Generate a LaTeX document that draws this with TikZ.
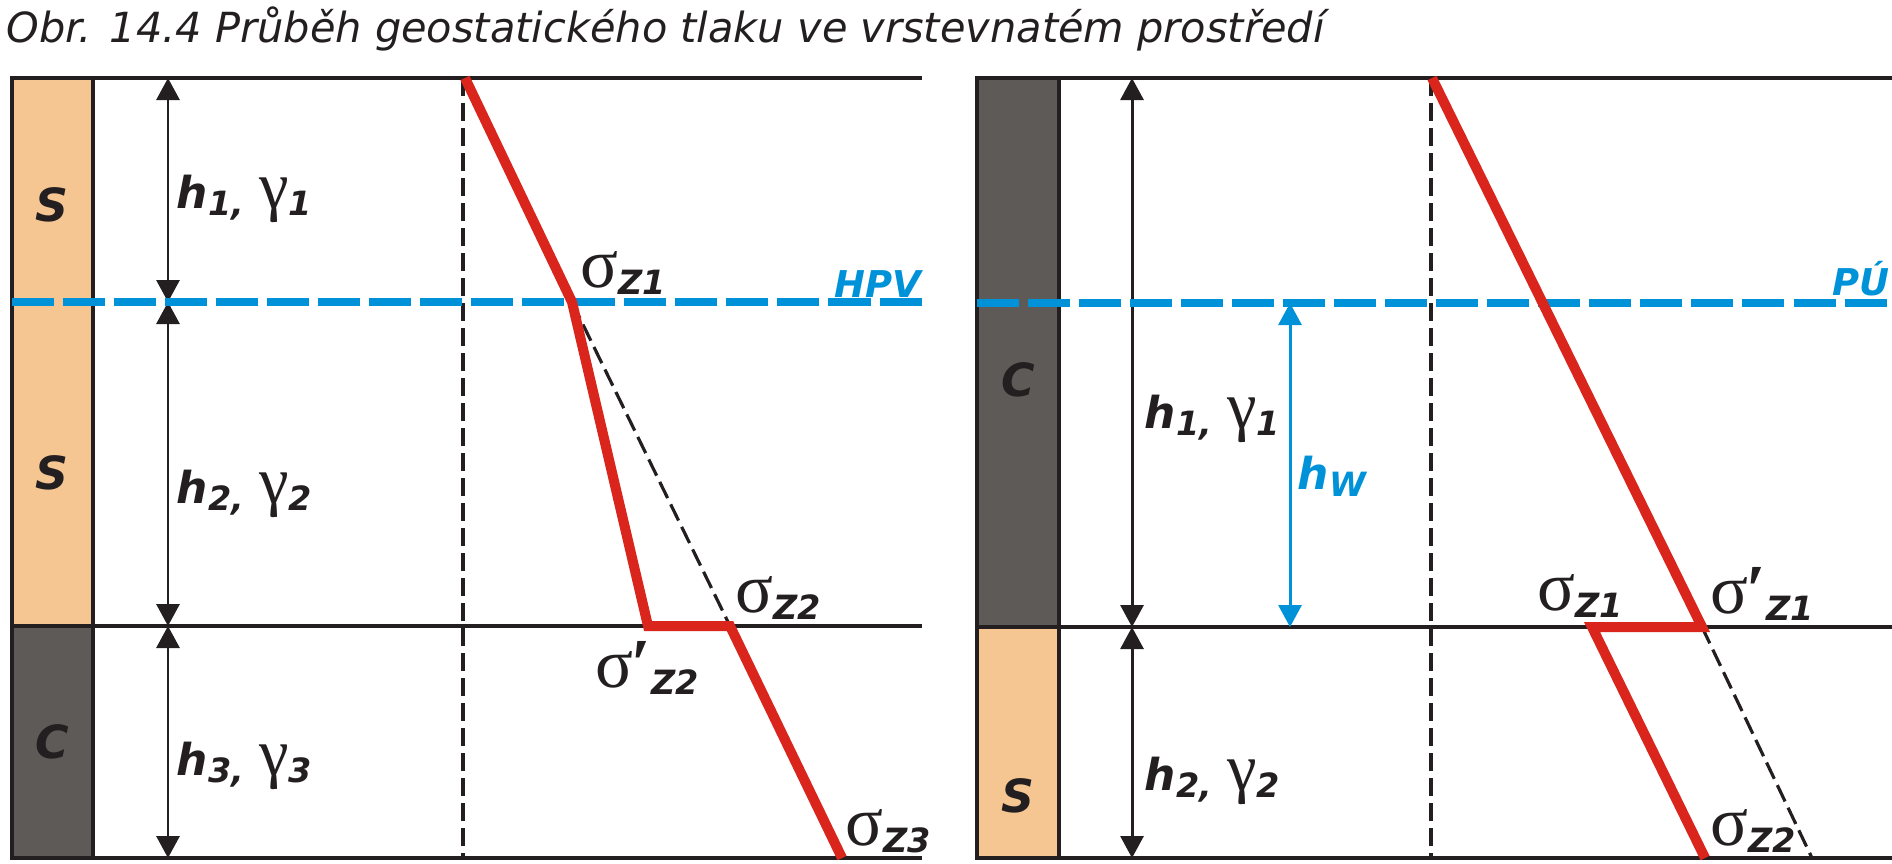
\documentclass[tikz,border=0pt]{standalone}
\usepackage{fontspec}
\setmainfont{DejaVu Sans}
\newfontfamily\greekfont{Liberation Serif}
\usetikzlibrary{arrows.meta}
\definecolor{inkcol}{RGB}{35,31,32}
\definecolor{sandcol}{RGB}{245,198,146}
\definecolor{claycol}{RGB}{94,90,88}
\definecolor{watercol}{RGB}{0,146,216}
\definecolor{stresscol}{RGB}{218,37,29}
\newcommand{\lowsub}[1]{\raisebox{-0.7mm}{\fontsize{9.5}{9.5}\selectfont\bfseries\itshape #1}}
\newcommand{\sig}{{\fontsize{20}{20}\selectfont\greekfont\mdseries\upshape σ}}
\newcommand{\sigp}{{\fontsize{20}{20}\selectfont\greekfont\mdseries\upshape σ\kern-0.5pt\textbf{′}}}
\newcommand{\gam}{{\fontsize{19}{19}\selectfont\greekfont\mdseries\upshape γ}}
\newcommand{\hlab}[1]{\textbf{\textit{h}}\lowsub{#1,}\ \gam\lowsub{#1}}

\begin{document}
\begin{tikzpicture}[x=0.01cm, y=-0.01cm, inkcol,
    layerlab/.style={inner sep=0pt, font=\fontsize{13}{13}\selectfont\bfseries\itshape},
    thicklab/.style={anchor=base west, inner sep=0pt, font=\fontsize{12.5}{12.5}\selectfont\bfseries\itshape},
    siglab/.style={anchor=base west, inner sep=0pt},
    waterlab/.style={anchor=base east, inner sep=0pt, text=watercol, font=\fontsize{10.5}{10.5}\selectfont\bfseries\itshape},
    ground/.style={line width=1.1pt},
    dimarrow/.style={line width=0.85pt, {Triangle[width=0.23cm,length=0.22cm]}-{Triangle[width=0.23cm,length=0.22cm]}},
    axisline/.style={line width=0.9pt, dash pattern=on 0.18cm off 0.07cm},
    stress/.style={stresscol, line width=2.85pt},
    water/.style={watercol, line width=2.3pt, dash pattern=on 0.42cm off 0.09cm}]
\useasboundingbox (0,0) rectangle (1892,863);

% Title
\node[anchor=base west, inner sep=0pt, font=\fontsize{11.8}{11.8}\selectfont\itshape] (title) at (6,42)
    {Obr. 14.4 Průběh geostatického tlaku ve vrstevnatém prostředí};

% Left profile - layers
\draw[ground, fill=sandcol] (12,78) rectangle (93,626);
\draw[ground, fill=claycol] (12,626) rectangle (93,858);
\draw[ground] (93,78) -- (922,78);
\draw[ground] (93,626) -- (922,626);
\draw[ground] (93,858) -- (922,858);
\node[layerlab] (l1) at (52,205) {S};
\node[layerlab] (l2) at (52,473) {S};
\node[layerlab] (l3) at (52,742) {C};

% Left profile - thicknesses
\coordinate (Ltop) at (168,78);
\coordinate (Lwat) at (168,302);
\coordinate (Lmid) at (168,626);
\coordinate (Lbot) at (168,858);
\draw[dimarrow] (Ltop) -- (Lwat);
\draw[dimarrow] (Lwat) -- (Lmid);
\draw[dimarrow] (Lmid) -- (Lbot);
\node[thicklab] (h1) at (176,208) {\hlab{1}};
\node[thicklab] (h2) at (176,503) {\hlab{2}};
\node[thicklab] (h3) at (176,775) {\hlab{3}};

% Left profile - stress diagram
\coordinate (Lax0) at (463,78);
\coordinate (Lax1) at (463,858);
\draw[axisline] (Lax0) -- (Lax1);
\coordinate (Ls0) at (465,78);
\coordinate (Ls1) at (572,302);
\coordinate (Ls2a) at (648,626);
\coordinate (Ls2) at (730,626);
\coordinate (Ls3) at (842,858);
\draw[axisline] (Ls1) -- (Ls2);
\draw[water] (12,302) -- (922,302);
\draw[stress] (Ls0) -- (Ls1) -- (Ls2a) -- (Ls2) -- (Ls3);
\node[siglab] (sz1) at (580,287) {\sig\lowsub{Z1}};
\node[siglab] (sz2) at (735,612) {\sig\lowsub{Z2}};
\node[siglab] (szp2) at (595,687) {\sigp\lowsub{Z2}};
\node[siglab] (sz3) at (845,845) {\sig\lowsub{Z3}};
\node[waterlab] (hpv) at (922,297) {HPV};

% Right profile - layers
\draw[ground, fill=claycol] (977,78) rectangle (1059,627);
\draw[ground, fill=sandcol] (977,627) rectangle (1059,858);
\draw[ground] (1059,78) -- (1892,78);
\draw[ground] (1059,627) -- (1892,627);
\draw[ground] (1059,858) -- (1892,858);
\node[layerlab] (r1) at (1018,380) {C};
\node[layerlab] (r2) at (1018,796) {S};

% Right profile - thicknesses
\coordinate (Rtop) at (1132,78);
\coordinate (Rmid) at (1132,627);
\coordinate (Rbot) at (1132,858);
\draw[dimarrow] (Rtop) -- (Rmid);
\draw[dimarrow] (Rmid) -- (Rbot);
\coordinate (Wtop) at (1290,303);
\coordinate (Wmid) at (1290,627);
\draw[dimarrow, watercol] (Wtop) -- (Wmid);
\node[thicklab] (rh1) at (1144,428) {\hlab{1}};
\node[thicklab] (rh2) at (1144,790) {\hlab{2}};
\node[thicklab, text=watercol] (hw) at (1297,489) {h\lowsub{W}};

% Right profile - stress diagram
\coordinate (Rax0) at (1431,78);
\coordinate (Rax1) at (1431,858);
\draw[axisline] (Rax0) -- (Rax1);
\coordinate (Rs0) at (1432,78);
\coordinate (Rs1) at (1702,627);
\coordinate (Rs1a) at (1592,627);
\coordinate (Rs2) at (1705,858);
\coordinate (Rs2b) at (1812,858);
\draw[axisline] (Rs1) -- (Rs2b);
\draw[water] (977,303) -- (1892,303);
\draw[stress] (Rs0) -- (Rs1) -- (Rs1a) -- (Rs2);
\node[siglab] (rsz1) at (1537,610) {\sig\lowsub{Z1}};
\node[siglab] (rszp1) at (1710,613) {\sigp\lowsub{Z1}};
\node[siglab] (rsz2) at (1710,845) {\sig\lowsub{Z2}};
\node[waterlab] (pu) at (1890,295) {PÚ};
\end{tikzpicture}
\end{document}
